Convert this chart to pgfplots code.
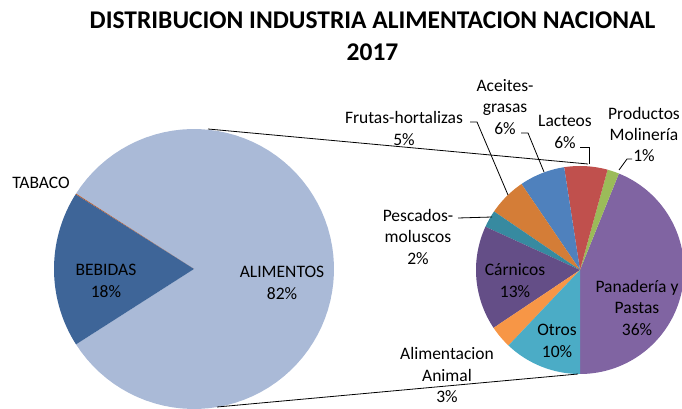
\documentclass[border=0pt]{standalone}
\usepackage{pgfplots}
\pgfplotsset{compat=1.18}
\usepackage{fontspec}
\setmainfont{Carlito}
\definecolor{calim}{RGB}{170,186,215}
\definecolor{cbeb}{RGB}{62,101,152}
\definecolor{ctab}{RGB}{190,90,40}
\definecolor{cpan}{RGB}{128,100,162}
\definecolor{cotros}{RGB}{75,172,198}
\definecolor{canim}{RGB}{247,150,70}
\definecolor{ccarn}{RGB}{100,78,135}
\definecolor{cpesc}{RGB}{55,138,160}
\definecolor{cfrut}{RGB}{212,125,55}
\definecolor{caceit}{RGB}{79,129,189}
\definecolor{clact}{RGB}{192,80,77}
\definecolor{cmol}{RGB}{155,187,89}
\tikzset{lbl/.style={font=\fontsize{17.5bp}{21.5bp}\selectfont, align=center, inner sep=0pt}}
% slice: cx, cy, r, start angle, end angle, colour
\newcommand{\slice}[6]{%
  \addplot[draw=none, fill=#6, domain=#4:#5, samples=80]
    ({#1+#3*cos(x)},{#2+#3*sin(x)}) -- (axis cs:#1,#2) -- cycle;
}
\begin{document}
\begin{tikzpicture}
% main pie values (percent)
\def\vAlim{81.9}\def\vTab{0.1}\def\vBeb{18.0}
\pgfmathsetmacro\mA{-\vAlim*3.6/2}
\pgfmathsetmacro\mB{\mA+\vAlim*3.6}
\pgfmathsetmacro\mC{\mB+\vTab*3.6}
\pgfmathsetmacro\mD{\mC+\vBeb*3.6}
% second pie values (percent of total)
\def\vPan{36.0}\def\vMol{1.5}\def\vLac{5.5}\def\vAce{5.8}\def\vFru{4.9}
\def\vPes{2.2}\def\vCar{13.3}\def\vAni{2.9}\def\vOtr{9.9}
\pgfmathsetmacro\rT{\vPan+\vMol+\vLac+\vAce+\vFru+\vPes+\vCar+\vAni+\vOtr}
\pgfmathsetmacro\rA{-90}
\pgfmathsetmacro\rB{\rA+\vPan/\rT*360}
\pgfmathsetmacro\rC{\rB+\vMol/\rT*360}
\pgfmathsetmacro\rD{\rC+\vLac/\rT*360}
\pgfmathsetmacro\rE{\rD+\vAce/\rT*360}
\pgfmathsetmacro\rF{\rE+\vFru/\rT*360}
\pgfmathsetmacro\rG{\rF+\vPes/\rT*360}
\pgfmathsetmacro\rH{\rG+\vCar/\rT*360}
\pgfmathsetmacro\rI{\rH+\vAni/\rT*360}
\pgfmathsetmacro\rJ{\rI+\vOtr/\rT*360}
\begin{axis}[width=682bp, height=409bp, scale only axis,
  xmin=0, xmax=682, ymin=0, ymax=409, hide axis, clip=true]
\path (axis cs:0,0) rectangle (axis cs:682,409);
% main pie
\slice{194}{140}{140}{\mA}{\mB}{calim}
\slice{194}{140}{140}{\mB}{\mC}{ctab}
\slice{194}{140}{140}{\mC}{\mD}{cbeb}
% second pie
\slice{580}{139}{104}{\rA}{\rB}{cpan}
\slice{580}{139}{104}{\rB}{\rC}{cmol}
\slice{580}{139}{104}{\rC}{\rD}{clact}
\slice{580}{139}{104}{\rD}{\rE}{caceit}
\slice{580}{139}{104}{\rE}{\rF}{cfrut}
\slice{580}{139}{104}{\rF}{\rG}{cpesc}
\slice{580}{139}{104}{\rG}{\rH}{ccarn}
\slice{580}{139}{104}{\rH}{\rI}{canim}
\slice{580}{139}{104}{\rI}{\rJ}{cotros}
% connector lines
\draw[black, line width=0.8bp] (axis cs:208,280) -- (axis cs:588,245);
\draw[black, line width=0.8bp] (axis cs:217,2) -- (axis cs:578,35);
% leader lines
\draw[black, line width=0.8bp] (axis cs:470,287) -- (axis cs:477,287) -- (axis cs:508,214);
\draw[black, line width=0.8bp] (axis cs:521,276) -- (axis cs:528,276) -- (axis cs:544,237);
\draw[black, line width=0.8bp] (axis cs:580,262) -- (axis cs:589,262) -- (axis cs:589,245);
\draw[black, line width=0.8bp] (axis cs:632,250) -- (axis cs:627,250) -- (axis cs:619,239);
\draw[black, line width=0.8bp] (axis cs:458,191) -- (axis cs:492,192);
% labels
\node[align=center, inner sep=0pt, font=\fontsize{25.5bp}{32bp}\selectfont\bfseries] at (axis cs:372.5,373) {DISTRIBUCION INDUSTRIA ALIMENTACION NACIONAL\\2017};
\node[lbl] at (axis cs:41,226) {TABACO};
\node[lbl] at (axis cs:106,128) {BEBIDAS\\18\%};
\node[lbl] at (axis cs:282,126) {ALIMENTOS\\82\%};
\node[lbl] at (axis cs:404,280.5) {Frutas-hortalizas\\5\%};
\node[lbl] at (axis cs:505,302) {Aceites-\\grasas\\6\%};
\node[lbl] at (axis cs:565,277) {Lacteos\\6\%};
\node[lbl] at (axis cs:644,274.5) {Productos\\Molinería\\1\%};
\node[lbl] at (axis cs:418,172.5) {Pescados-\\moluscos\\2\%};
\node[lbl] at (axis cs:515,128.5) {Cárnicos\\13\%};
\node[lbl] at (axis cs:637,101.5) {Panadería y\\Pastas\\36\%};
\node[lbl] at (axis cs:557,68) {Otros\\10\%};
\node[lbl] at (axis cs:447,34) {Alimentacion\\Animal\\3\%};
\end{axis}
\end{tikzpicture}
\end{document}
